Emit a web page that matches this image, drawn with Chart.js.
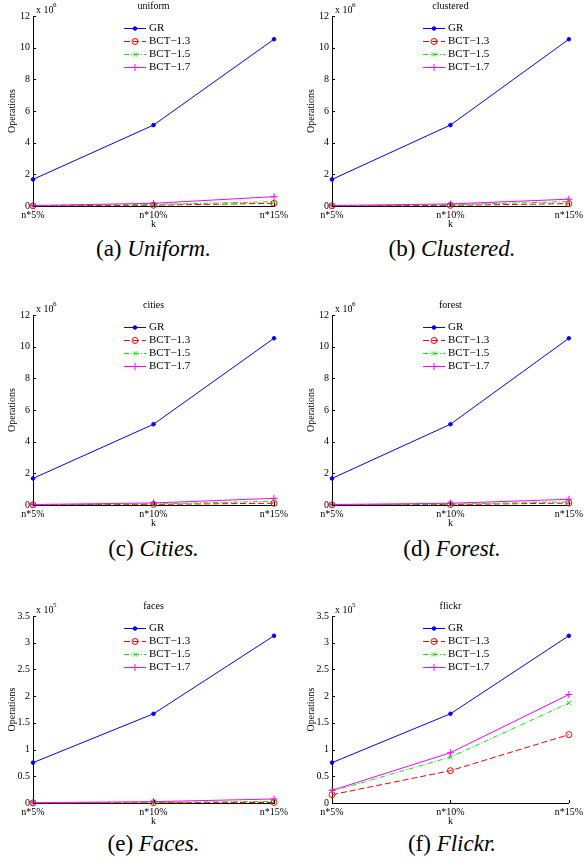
<!DOCTYPE html>
<html>
<head>
<meta charset="utf-8">
<script src="https://cdn.jsdelivr.net/npm/chart.js@4/dist/chart.umd.min.js"></script>
<style>
  body { margin: 0; background: #fff; }
  #page { position: relative; width: 586px; height: 865px; overflow: hidden; }
  canvas { position: absolute; }
  .caption {
    position: absolute; width: 240px; text-align: center;
    font-family: "Liberation Serif", "Times New Roman", Times, "DejaVu Serif", serif;
    font-size: 23px; line-height: 23px; color: #000;
  }
  .caption i { font-style: italic; }
</style>
</head>
<body>
<div id="page"></div>
<script>
// x 축 카테고리와 범례 이름
const kLabels = ['n*5%', 'n*10%', 'n*15%'];
const seriesNames = ['GR', 'BCT\u22121.3', 'BCT\u22121.5', 'BCT\u22121.7'];

// uniform (x 10^6)
const uniformGR = [1.68, 5.11, 10.53];
const uniformBCT13 = [0.01, 0.05, 0.17];
const uniformBCT15 = [0.02, 0.10, 0.27];
const uniformBCT17 = [0.03, 0.17, 0.59];

// clustered (x 10^6)
const clusteredGR = [1.68, 5.11, 10.53];
const clusteredBCT13 = [0.01, 0.04, 0.15];
const clusteredBCT15 = [0.02, 0.08, 0.28];
const clusteredBCT17 = [0.03, 0.13, 0.43];

// cities (x 10^6)
const citiesGR = [1.68, 5.10, 10.53];
const citiesBCT13 = [0.01, 0.04, 0.11];
const citiesBCT15 = [0.02, 0.06, 0.24];
const citiesBCT17 = [0.03, 0.13, 0.42];

// forest (x 10^6)
const forestGR = [1.68, 5.10, 10.53];
const forestBCT13 = [0.01, 0.03, 0.12];
const forestBCT15 = [0.02, 0.05, 0.20];
const forestBCT17 = [0.03, 0.11, 0.36];

// faces (x 10^5)
const facesGR = [0.755, 1.67, 3.13];
const facesBCT13 = [0.002, 0.005, 0.01];
const facesBCT15 = [0.004, 0.012, 0.03];
const facesBCT17 = [0.006, 0.025, 0.075];

// flickr (x 10^5)
const flickrGR = [0.755, 1.67, 3.13];
const flickrBCT13 = [0.156, 0.605, 1.28];
const flickrBCT15 = [0.22, 0.86, 1.87];
const flickrBCT17 = [0.237, 0.94, 2.03];

// 축 눈금
const bigTicks = [0, 2, 4, 6, 8, 10, 12];
const smallTicks = [0, 0.5, 1, 1.5, 2, 2.5, 3, 3.5];

const panels = [
  { title: 'uniform',   tag: '(a)', name: 'Uniform.',   col: 0, row: 0, exp: '6', ticks: bigTicks,   data: [uniformGR, uniformBCT13, uniformBCT15, uniformBCT17] },
  { title: 'clustered', tag: '(b)', name: 'Clustered.', col: 1, row: 0, exp: '6', ticks: bigTicks,   data: [clusteredGR, clusteredBCT13, clusteredBCT15, clusteredBCT17] },
  { title: 'cities',    tag: '(c)', name: 'Cities.',    col: 0, row: 1, exp: '6', ticks: bigTicks,   data: [citiesGR, citiesBCT13, citiesBCT15, citiesBCT17] },
  { title: 'forest',    tag: '(d)', name: 'Forest.',    col: 1, row: 1, exp: '6', ticks: bigTicks,   data: [forestGR, forestBCT13, forestBCT15, forestBCT17] },
  { title: 'faces',     tag: '(e)', name: 'Faces.',     col: 0, row: 2, exp: '5', ticks: smallTicks, data: [facesGR, facesBCT13, facesBCT15, facesBCT17] },
  { title: 'flickr',    tag: '(f)', name: 'Flickr.',    col: 1, row: 2, exp: '5', ticks: smallTicks, data: [flickrGR, flickrBCT13, flickrBCT15, flickrBCT17] }
];

// 레이아웃 (행별 플롯 영역 위/아래, 열별 왼쪽 여백)
const rowTop = [16, 315, 616];
const rowBottom = [206, 505, 803];
const captionTop = [237, 537, 832];
const colX = [0, 293];
const yAxisWidth = [33, 39];
const padRight = [19, 14];
const yTitlePad = [6, 12];

const serif = '"Liberation Serif", "Times New Roman", Times, "DejaVu Serif", serif';

const styles = [
  { color: '#0000ff', dash: [],           pointStyle: 'circle',   radius: 1.8, fill: '#0000ff' },
  { color: '#ff0000', dash: [6, 3],       pointStyle: 'circle',   radius: 3,   fill: 'rgba(0,0,0,0)' },
  { color: '#00ee00', dash: [5, 2, 1, 2], pointStyle: 'crossRot', radius: 3,   fill: '#00ee00' },
  { color: '#ff00ff', dash: [],           pointStyle: 'cross',    radius: 3.5, fill: '#ff00ff' }
];

function drawMarker(ctx, st, x, y) {
  if (Chart.helpers && Chart.helpers.drawPoint) {
    ctx.save();
    ctx.setLineDash([]);
    ctx.strokeStyle = st.color;
    ctx.fillStyle = st.fill;
    ctx.lineWidth = 1;
    Chart.helpers.drawPoint(ctx, { pointStyle: st.pointStyle, radius: st.radius, borderWidth: 1, rotation: 0 }, x, y);
    ctx.restore();
  }
}

// 제목, 지수, 범례, 안쪽 눈금
const matlabDecor = {
  id: 'matlabDecor',
  afterDraw(chart, args, opts) {
    const ctx = chart.ctx;
    const a = chart.chartArea;
    ctx.save();
    ctx.fillStyle = '#000';
    ctx.textBaseline = 'middle';
    ctx.font = '10px ' + serif;
    ctx.textAlign = 'center';
    ctx.fillText(opts.title, (a.left + a.right) / 2, a.top - 10);
    ctx.textAlign = 'left';
    ctx.fillText('x 10', a.left + 3, a.top - 6);
    ctx.font = '7px ' + serif;
    ctx.fillText(opts.exp, a.left + 20, a.top - 11);

    // 안쪽 눈금
    ctx.strokeStyle = '#000';
    ctx.lineWidth = 1;
    const ys = chart.scales.y, xs = chart.scales.x;
    ys.ticks.forEach(t => {
      const py = Math.round(ys.getPixelForValue(t.value)) + 0.5;
      ctx.beginPath(); ctx.moveTo(a.left, py); ctx.lineTo(a.left + 3, py); ctx.stroke();
    });
    xs.ticks.forEach((t, i) => {
      const px = Math.round(xs.getPixelForValue(i)) + 0.5;
      ctx.beginPath(); ctx.moveTo(px, a.bottom); ctx.lineTo(px, a.bottom - 3); ctx.stroke();
    });

    // 범례
    ctx.font = '11px ' + serif;
    chart.data.datasets.forEach((ds, i) => {
      const st = styles[i];
      const y = a.top + 12 + 13 * i + 0.5;
      ctx.strokeStyle = st.color;
      ctx.setLineDash(st.dash);
      ctx.beginPath();
      ctx.moveTo(a.left + 91, y);
      ctx.lineTo(a.left + 113, y);
      ctx.stroke();
      drawMarker(ctx, st, a.left + 102, y);
      ctx.setLineDash([]);
      ctx.fillStyle = '#000';
      ctx.fillText(ds.label, a.left + 116, y);
    });
    ctx.restore();
  }
};

const page = document.getElementById('page');

panels.forEach(p => {
  const top = rowTop[p.row] - 16;
  const height = rowBottom[p.row] + 26 - top;
  const canvas = document.createElement('canvas');
  canvas.style.left = colX[p.col] + 'px';
  canvas.style.top = top + 'px';
  canvas.style.width = '293px';
  canvas.style.height = height + 'px';
  canvas.width = 293;
  canvas.height = height;
  page.appendChild(canvas);

  const cap = document.createElement('div');
  cap.className = 'caption';
  cap.style.left = (colX[p.col] + yAxisWidth[p.col] + (293 - yAxisWidth[p.col] - padRight[p.col]) / 2 - 120) + 'px';
  cap.style.top = captionTop[p.row] + 'px';
  cap.innerHTML = p.tag + ' <i>' + p.name + '</i>';
  page.appendChild(cap);

  const yMax = p.ticks[p.ticks.length - 1];
  const step = p.ticks[1] - p.ticks[0];

  new Chart(canvas.getContext('2d'), {
    type: 'line',
    data: {
      labels: kLabels,
      datasets: p.data.map((vals, i) => ({
        label: seriesNames[i],
        data: vals,
        borderColor: styles[i].color,
        backgroundColor: styles[i].fill,
        pointBackgroundColor: styles[i].fill,
        pointBorderColor: styles[i].color,
        borderDash: styles[i].dash,
        borderWidth: 1,
        pointStyle: styles[i].pointStyle,
        pointRadius: styles[i].radius,
        pointBorderWidth: 1,
        tension: 0,
        fill: false,
        clip: false,
        order: 4 - i
      }))
    },
    options: {
      responsive: false,
      animation: false,
      events: [],
      layout: { padding: { top: 16, right: padRight[p.col], left: 0, bottom: 0 } },
      plugins: {
        legend: { display: false },
        tooltip: { enabled: false },
        title: { display: false },
        matlabDecor: { title: p.title, exp: p.exp }
      },
      scales: {
        x: {
          offset: false,
          grid: { display: false, drawTicks: false },
          border: { display: true, color: '#000', width: 1 },
          ticks: { color: '#000', padding: 3, maxRotation: 0, autoSkip: false, font: { family: serif, size: 10 } },
          title: { display: true, text: 'k', color: '#000', padding: { top: 0, bottom: 2 }, font: { family: serif, size: 10 } },
          afterFit: s => { s.height = 26; }
        },
        y: {
          min: 0,
          max: yMax,
          grid: { display: false, drawTicks: false },
          border: { display: true, color: '#000', width: 1 },
          ticks: { color: '#000', padding: 3, stepSize: step, font: { family: serif, size: 10 }, callback: v => String(v) },
          title: { display: true, text: 'Operations', color: '#000', padding: yTitlePad[p.col], font: { family: serif, size: 10 } },
          afterFit: s => { s.width = yAxisWidth[p.col]; }
        }
      }
    },
    plugins: [matlabDecor]
  });
});
</script>
</body>
</html>
